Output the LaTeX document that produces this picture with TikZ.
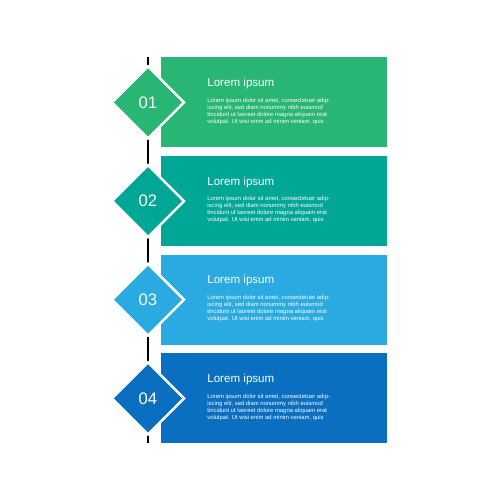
\documentclass[tikz,border=0pt]{standalone}
\usepackage{fontspec}
\setmainfont{Liberation Sans}
\usetikzlibrary{shapes.geometric}

\definecolor{stepA}{RGB}{41,181,115}
\definecolor{stepB}{RGB}{0,166,150}
\definecolor{stepC}{RGB}{41,170,225}
\definecolor{stepD}{RGB}{10,111,192}

\tikzset{
  box/.style={fill=#1, draw=none, minimum width=4.52cm, minimum height=1.8cm, inner sep=0pt, anchor=north west},
  dmd/.style={diamond, fill=#1, draw=white, line width=0.05cm, minimum width=1.46cm, minimum height=1.46cm, inner sep=0pt, text=white, font=\fontsize{9.5}{11}\selectfont},
  ttl/.style={anchor=west, inner sep=0pt, text=white, font=\fontsize{6.6}{7.5}\selectfont},
  txt/.style={anchor=north west, inner sep=0pt, align=left, text=white, font=\fontsize{3.35}{4}\selectfont}
}

\begin{document}
\begin{tikzpicture}[x=0.02cm,y=-0.02cm]
\useasboundingbox (0,0) rectangle (500,500);

% timeline
\coordinate (top) at (148,57);
\coordinate (bot) at (148,443);
\draw[line width=0.04cm] (top) -- (bot);

\foreach \i/\c in {1/stepA, 2/stepB, 3/stepC, 4/stepD}{
  \pgfmathsetmacro\y{57+(\i-1)*98.7}
  \node[box=\c] (r\i) at (161,\y) {};
  \node[dmd=\c] (d\i) at (r\i.west -| top) {0\i};
  \node[ttl] (t\i) at (207,\y+26.5) {Lorem ipsum};
  \node[txt] (b\i) at (207,\y+40.5) {Lorem ipsum dolor sit amet, consectetuer adip-\\
    iscing elit, sed diam nonummy nibh euismod\\
    tincidunt ut laoreet dolore magna aliquam erat\\
    volutpat. Ut wisi enim ad minim veniam, quis};
}
\end{tikzpicture}
\end{document}
